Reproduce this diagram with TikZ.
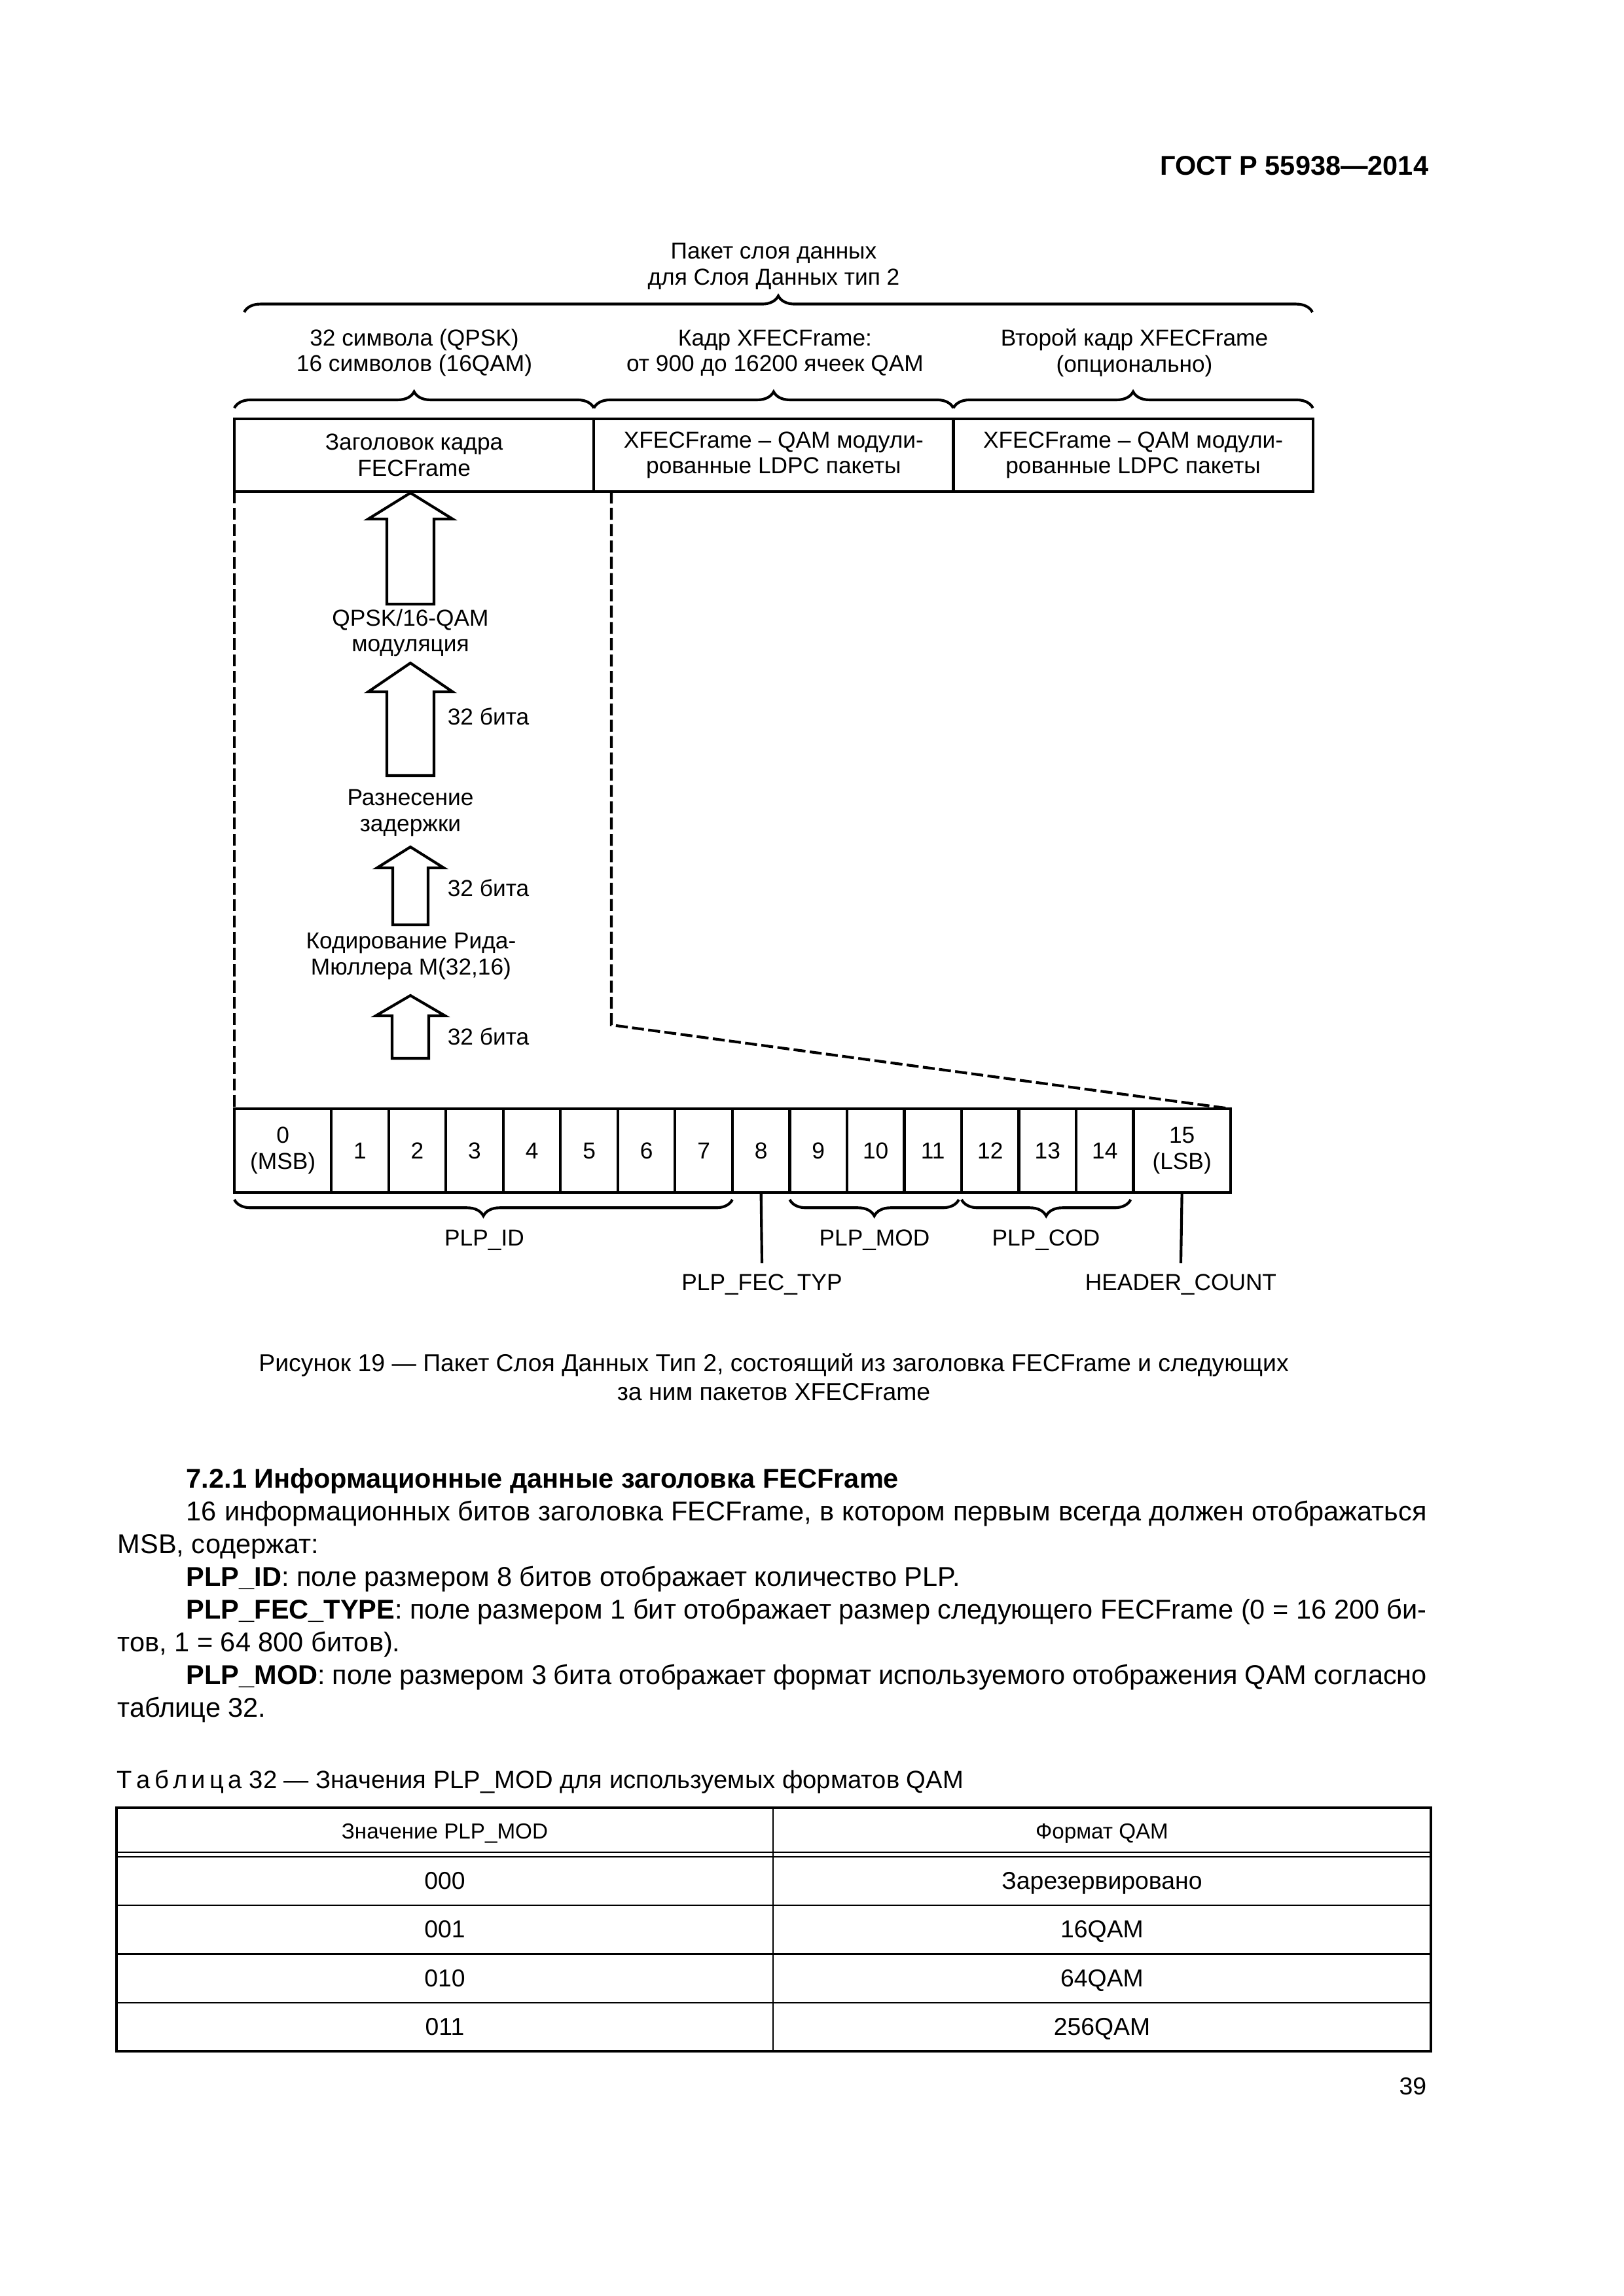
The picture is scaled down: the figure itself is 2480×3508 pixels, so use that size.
\documentclass[tikz,border=0pt]{standalone}
\usepackage{fontspec}
\setmainfont{Liberation Sans}
\usetikzlibrary{positioning,decorations.pathreplacing}

\begin{document}
\begin{tikzpicture}[
		x=0.24bp, y=-0.24bp,
		node distance=0pt,
		lbl/.style={align=center, inner sep=0pt, font=\fontsize{8.5}{9.5}\selectfont},
		block/.style={draw, line width=1pt, minimum height=9.4mm, minimum width=46.5mm, outer sep=0pt, align=center, font=\fontsize{8.5}{9.5}\selectfont},
		cell/.style={draw, line width=1pt, minimum height=10.84mm, minimum width=7.41mm, outer sep=0pt, inner sep=0pt, align=center, font=\fontsize{8.5}{9.5}\selectfont},
		widecell/.style={cell, minimum width=12.55mm},
		brace/.style={decorate, decoration={brace, amplitude=6pt, aspect=0.5}, line width=1pt},
		dashline/.style={line width=1pt, dash pattern=on 4.4pt off 1.6pt},
		body/.style={anchor=base west, inner sep=0pt, font=\fontsize{10}{12}\selectfont},
		tcell/.style={inner sep=0pt, text height=7pt, text depth=2pt, font=\fontsize{9}{11}\selectfont},
		pics/uparrow/.style n args={4}{code={
			\draw[line width=1pt] (0,0) -- (#1,#3) -- (#2,#3) -- (#2,#4) -- (-#2,#4) -- (-#2,#3) -- (-#1,#3) -- cycle;
		}},
	]
		\fill[white] (0,0) rectangle (2480,3508);
		\useasboundingbox (0,0) rectangle (2480,3508);

		% running head
		\node (gost) [anchor=base east, inner sep=0pt, font=\fontsize{10}{12}\selectfont\bfseries] at (2183,267) {ГОСТ Р 55938—2014};

		% frame structure
		\node (title) [lbl] at (1182,407) {Пакет слоя данных\\для Слоя Данных тип 2};
		\draw[brace] (373,477) -- (2005,477);

		\node (hdr) [block, anchor=north west] at (358,640) {Заголовок кадра\\FECFrame};
		\node (xf1) [block, right=of hdr] {XFECFrame – QAM модули-\\рованные LDPC пакеты};
		\node (xf2) [block, right=of xf1] {XFECFrame – QAM модули-\\рованные LDPC пакеты};

		\foreach \n in {hdr,xf1,xf2}
			\draw[brace] ([yshift=4pt]\n.north west) -- ([yshift=4pt]\n.north east);

		\node (lhdr) [lbl] at (633,539) {32 символа (QPSK)\\16 символов (16QAM)};
		\node (lxf1) [lbl] at (1184,539) {Кадр XFECFrame:\\от 900 до 16200 ячеек QAM};
		\node (lxf2) [lbl] at (1733,539) {Второй кадр XFECFrame\\(опционально)};

		% header bits
		\node (b0) [widecell, anchor=north west] at (358,1694) {0\\(MSB)};
		\foreach \i [count=\p from 0] in {1,...,14}
			\node (b\i) [cell, right=of b\p] {\i};
		\node (b15) [widecell, right=of b14] {15\\(LSB)};

		\coordinate (dtop) at (934,751);
		\coordinate (dbend) at (934,1566);
		\draw[dashline] (hdr.south west) -- (b0.north west);
		\draw[dashline] (dtop) -- (dbend) -- (b15.north east);

		% coding chain
		\pic (arr1) at (627,753) {uparrow={64.5}{36}{40}{170}};
		\node (qam) [lbl] at (627,967) {QPSK/16-QAM\\модуляция};
		\pic (arr2) at (627,1013) {uparrow={64.5}{36}{44}{172}};
		\node (bits1) [lbl, anchor=west] at (683,1095) {32 бита};
		\node (delay) [lbl] at (627,1242) {Разнесение\\задержки};
		\pic (arr3) at (627,1294) {uparrow={51}{27}{32}{119}};
		\node (bits2) [lbl, anchor=west] at (683,1357) {32 бита};
		\node (rm) [lbl] at (628,1461) {Кодирование Рида-\\Мюллера М(32,16)};
		\pic (arr4) at (627,1521) {uparrow={53}{28}{31}{96}};
		\node (bits3) [lbl, anchor=west] at (683,1584) {32 бита};

		% fields
		\draw[brace] ([yshift=-2.6pt]b7.south east) -- ([yshift=-2.6pt]b0.south west);
		\draw[brace] ([xshift=-1pt,yshift=-2.6pt]b11.south east) -- ([yshift=-2.6pt]b9.south west);
		\draw[brace] ([xshift=-1pt,yshift=-2.6pt]b14.south east) -- ([yshift=-2.6pt]b12.south west);
		\node (plpid) [lbl] at (740,1895) {PLP\_ID};
		\node (plpmod) [lbl] at (1336,1895) {PLP\_MOD};
		\node (plpcod) [lbl] at (1598,1895) {PLP\_COD};

		\coordinate (fecend) at (1164,1930);
		\coordinate (cntend) at (1804,1930);
		\draw[line width=1pt] (b8.south) -- (fecend);
		\draw[line width=1pt] (b15.south) -- (cntend);
		\node (fectyp) [lbl] at (1164,1963) {PLP\_FEC\_TYP};
		\node (hcount) [lbl] at (1804,1963) {HEADER\_COUNT};

		% caption
		\node (caption) [align=center, inner sep=0pt, font=\fontsize{9}{10.6}\selectfont] at (1182,2104) {Рисунок 19 — Пакет Слоя Данных Тип 2, состоящий из заголовка FECFrame и следующих\\за ним пакетов XFECFrame};

		% text
		\node (h721) [body, font=\fontsize{10}{12}\selectfont\bfseries] at (284,2273) {7.2.1 Информационные данные заголовка FECFrame};
		\node (p1a) [body] at (284,2323) {\makebox[456.5pt][s]{16 информационных битов заголовка FECFrame, в котором первым всегда должен отображаться}};
		\node (p1b) [body] at (179,2373) {MSB, содержат:};
		\node (p2) [body] at (284,2423) {\textbf{PLP\_ID}: поле размером 8 битов отображает количество PLP.};
		\node (p3a) [body] at (284,2473) {\makebox[456.5pt][s]{\textbf{PLP\_FEC\_TYPE}: поле размером 1 бит отображает размер следующего FECFrame (0 = \mbox{16 200} би-}};
		\node (p3b) [body] at (179,2523) {тов, 1 = \mbox{64 800} битов).};
		\node (p4a) [body] at (284,2573) {\makebox[456.5pt][s]{\textbf{PLP\_MOD}: поле размером 3 бита отображает формат используемого отображения QAM согласно}};
		\node (p4b) [body] at (179,2623) {таблице 32.};

		% table 32
		\node (tcap) [anchor=base west, inner sep=0pt, font=\fontsize{9.2}{11}\selectfont] at (178,2732) {Т\,а\,б\,л\,и\,ц\,а 32 — Значения PLP\_MOD для используемых форматов QAM};
		\draw[line width=0.75pt] (178,2762) rectangle (2186,3134);
		\draw[line width=0.4pt] (1181,2762) -- (1181,3134);
		\draw[line width=0.6pt] (178,2830) -- (2186,2830);
		\draw[line width=0.4pt] (178,2837) -- (2186,2837);
		\foreach \yy in {2911,2985.5,3060}
			\draw[line width=0.65pt] (178,\yy) -- (2186,\yy);
		\node (th1) [tcell, font=\fontsize{8}{10}\selectfont] at (679.5,2799) {Значение PLP\_MOD};
		\node (th2) [tcell, font=\fontsize{8}{10}\selectfont] at (1683.5,2799) {Формат QAM};
		\foreach \v/\f [count=\r from 0] in {000/Зарезервировано,001/16QAM,010/64QAM,011/256QAM} {
			\node (tv\r) [tcell] at (679.5,2876+74.5*\r) {\v};
			\node (tf\r) [tcell] at (1683.5,2876+74.5*\r) {\f};
		}

		\node (pnum) [anchor=base east, inner sep=0pt, font=\fontsize{9}{11}\selectfont] at (2180,3200) {39};
	\end{tikzpicture}
\end{document}
